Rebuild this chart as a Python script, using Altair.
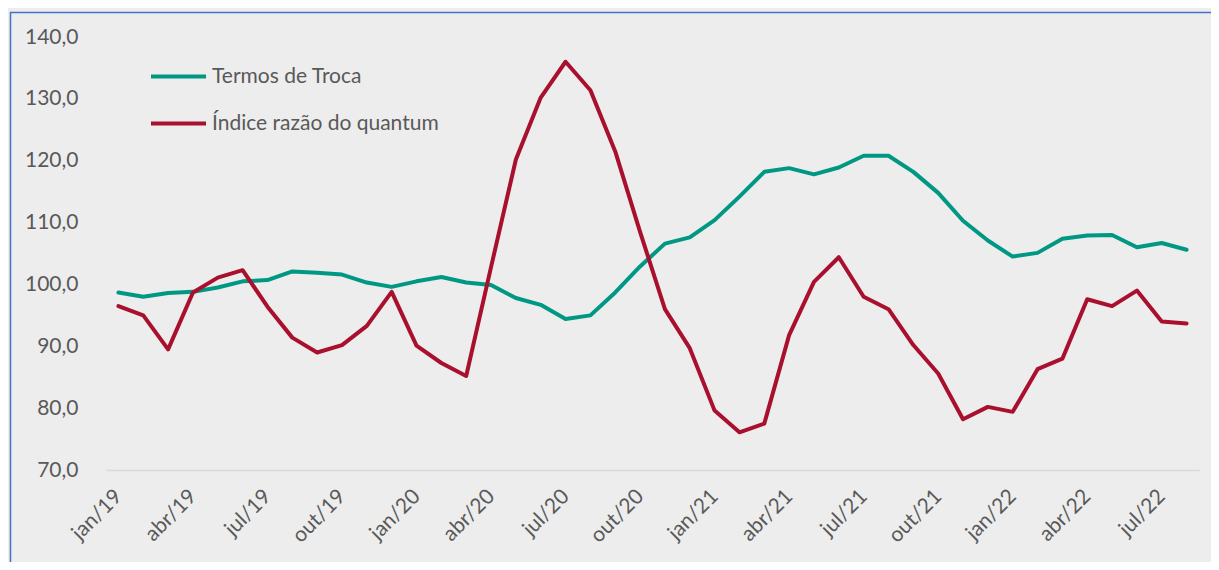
import altair as alt
import pandas as pd

periodos = [
    "jan/19", "fev/19", "mar/19", "abr/19", "mai/19", "jun/19", "jul/19", "ago/19", "set/19", "out/19", "nov/19", "dez/19",
    "jan/20", "fev/20", "mar/20", "abr/20", "mai/20", "jun/20", "jul/20", "ago/20", "set/20", "out/20", "nov/20", "dez/20",
    "jan/21", "fev/21", "mar/21", "abr/21", "mai/21", "jun/21", "jul/21", "ago/21", "set/21", "out/21", "nov/21", "dez/21",
    "jan/22", "fev/22", "mar/22", "abr/22", "mai/22", "jun/22", "jul/22", "ago/22",
]

termos_de_troca = [
    98.7, 98.0, 98.6, 98.8, 99.5, 100.5, 100.7, 102.1, 101.9, 101.6, 100.3, 99.6,
    100.5, 101.2, 100.3, 99.9, 97.8, 96.7, 94.4, 95.0, 98.7, 102.9, 106.6, 107.6,
    110.4, 114.2, 118.2, 118.8, 117.8, 118.9, 120.8, 120.8, 118.2, 114.8, 110.3, 107.1,
    104.5, 105.1, 107.4, 107.9, 108.0, 106.0, 106.7, 105.6,
]

indice_quantum = [
    96.5, 95.0, 89.5, 98.7, 101.1, 102.3, 96.4, 91.4, 89.0, 90.2, 93.3, 98.8,
    90.1, 87.3, 85.2, 102.8, 120.2, 130.2, 136.0, 131.4, 121.5, 108.5, 96.0, 89.7,
    79.6, 76.1, 77.5, 91.8, 100.4, 104.4, 98.0, 96.0, 90.2, 85.6, 78.2, 80.2,
    79.4, 86.3, 88.0, 97.6, 96.5, 99.0, 94.0, 93.7,
]

rotulos_x = ["jan/19", "abr/19", "jul/19", "out/19", "jan/20", "abr/20", "jul/20", "out/20",
             "jan/21", "abr/21", "jul/21", "out/21", "jan/22", "abr/22", "jul/22"]
ticks_y = [70, 80, 90, 100, 110, 120, 130, 140]

serie_nomes = ["Termos de Troca", "Índice razão do quantum"]
serie_cores = ["#009883", "#A8102E"]

df = pd.concat([
    pd.DataFrame({"periodo": periodos, "valor": termos_de_troca, "serie": serie_nomes[0]}),
    pd.DataFrame({"periodo": periodos, "valor": indice_quantum, "serie": serie_nomes[1]}),
])

FONT = "Lato"
TXT = "#595959"
FS = 21

lines = alt.Chart(df).mark_line(strokeWidth=4, strokeCap="round", strokeJoin="round").encode(
    x=alt.X("periodo:N", sort=periodos, title=None,
            scale=alt.Scale(type="point", padding=0.5),
            axis=alt.Axis(values=rotulos_x, labelAngle=-45, labelAlign="right", labelBaseline="middle",
                          labelPadding=23, ticks=False, grid=False, domain=True,
                          domainColor="#D9D9D9", domainWidth=1.5, labelFontSize=FS,
                          labelFont=FONT, labelColor=TXT)),
    y=alt.Y("valor:Q", title=None,
            scale=alt.Scale(domain=[70, 140], nice=False, zero=False),
            axis=alt.Axis(values=ticks_y, domain=False, ticks=False, grid=False,
                          labelExpr="replace(format(datum.value, '.1f'), '.', ',')",
                          labelPadding=28, labelFontSize=FS, labelFont=FONT, labelColor=TXT)),
    color=alt.Color("serie:N", scale=alt.Scale(domain=serie_nomes, range=serie_cores),
                    legend=alt.Legend(title=None, orient="none", legendX=43, legendY=10,
                                      symbolType="stroke", symbolSize=3025, symbolStrokeWidth=4,
                                      labelFontSize=FS, labelFont=FONT, labelColor=TXT,
                                      labelLimit=0, labelOffset=4, rowPadding=7)),
)

frame = alt.Chart(alt.Data(values=[{"a": 1}])).mark_rect(
    fill=None, fillOpacity=0, stroke="#4472C4", strokeWidth=1.5
).encode(
    x=alt.value(-95.5), y=alt.value(-24.5), x2=alt.value(3000), y2=alt.value(3000)
)

chart = alt.layer(frame, lines).properties(
    width=1093, height=433,
    padding={"left": 98, "top": 29, "right": 12, "bottom": 92},
    autosize=alt.AutoSizeParams(type="none"),
    background="#EDEDED",
).configure_view(stroke=None, fill="#EDEDED")

chart.save("out.html", embed_options={"renderer": "svg", "actions": False})
